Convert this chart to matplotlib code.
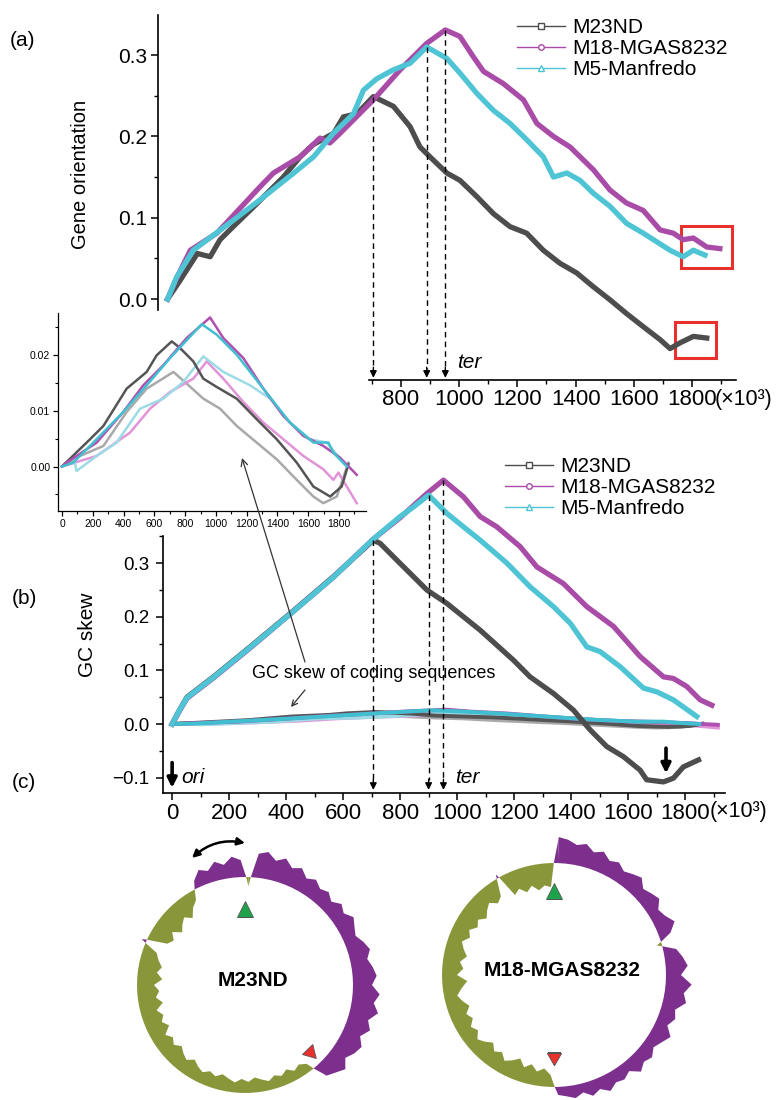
import numpy as np
import matplotlib.pyplot as plt
from matplotlib.lines import Line2D
from matplotlib.patches import Rectangle
from matplotlib.ticker import FuncFormatter

plt.rcParams['font.family'] = ['Liberation Sans', 'DejaVu Sans']

W, H = 777, 1100


def fp(x, y):
    # pixel position (top-left origin) -> figure fraction
    return x / W, 1 - y / H


def box(l, t, r, b):
    return [l / W, 1 - b / H, (r - l) / W, (b - t) / H]


names = ['M23ND', 'M18-MGAS8232', 'M5-Manfredo']
colors = ['#4d4d4d', '#a94ca8', '#4ec4d4']
markers = ['s', 'o', '^']

# ---- (a) cumulative gene orientation, position in kb ----
a_x_m23 = [0, 43, 102, 146, 180, 225, 294, 397, 455, 500, 570, 603, 650, 706, 775, 832, 866, 900,
           958, 1003, 1061, 1118, 1175, 1232, 1289, 1346, 1404, 1461, 1518, 1575, 1632, 1690, 1724,
           1758, 1804, 1850]
a_y_m23 = [0, 0.023, 0.056, 0.052, 0.073, 0.089, 0.113, 0.150, 0.175, 0.190, 0.204, 0.224, 0.228,
           0.249, 0.237, 0.212, 0.187, 0.175, 0.155, 0.146, 0.126, 0.105, 0.089, 0.081, 0.060, 0.044,
           0.032, 0.015, -0.001, -0.018, -0.034, -0.050, -0.061, -0.054, -0.046, -0.048]
a_x_m18 = [0, 30, 78, 169, 317, 363, 455, 523, 557, 592, 706, 798, 889, 953, 1003, 1049, 1084, 1152,
           1221, 1267, 1324, 1381, 1461, 1518, 1575, 1632, 1690, 1735, 1769, 1804, 1850, 1895]
a_y_m18 = [0, 0.025, 0.060, 0.081, 0.138, 0.155, 0.175, 0.198, 0.192, 0.204, 0.245, 0.282, 0.3145,
           0.331, 0.323, 0.298, 0.280, 0.265, 0.245, 0.216, 0.200, 0.187, 0.159, 0.134, 0.118, 0.109,
           0.085, 0.081, 0.073, 0.075, 0.064, 0.062]
a_x_m5 = [0, 31, 88, 226, 317, 433, 501, 569, 638, 672, 718, 775, 832, 889, 958, 1003, 1061, 1118,
          1175, 1232, 1289, 1324, 1370, 1415, 1461, 1518, 1575, 1632, 1667, 1724, 1769, 1804, 1844]
a_y_m5 = [0, 0.027, 0.060, 0.097, 0.122, 0.155, 0.175, 0.204, 0.228, 0.257, 0.271, 0.282, 0.290,
          0.310, 0.296, 0.278, 0.253, 0.232, 0.216, 0.196, 0.175, 0.150, 0.155, 0.146, 0.130, 0.114,
          0.093, 0.081, 0.073, 0.060, 0.052, 0.060, 0.054]

# ---- (b) cumulative GC skew, whole genome ----
b_x_m23 = [0, 25, 52, 145, 274, 414, 566, 706, 730, 788, 894, 964, 1081, 1198, 1256, 1338, 1408,
           1467, 1525, 1584, 1642, 1665, 1724, 1759, 1794, 1847]
b_y_m23 = [0, 0.025, 0.050, 0.088, 0.144, 0.206, 0.275, 0.343, 0.337, 0.306, 0.250, 0.225, 0.175,
           0.119, 0.088, 0.057, 0.026, -0.011, -0.042, -0.061, -0.086, -0.104, -0.108, -0.101,
           -0.080, -0.067]
b_x_m18 = [0, 25, 52, 145, 274, 414, 566, 706, 800, 894, 952, 1022, 1081, 1139, 1221, 1280, 1373,
           1455, 1549, 1642, 1724, 1759, 1806, 1853, 1894]
b_y_m18 = [0, 0.024, 0.048, 0.086, 0.142, 0.205, 0.274, 0.345, 0.385, 0.430, 0.455, 0.424, 0.387,
           0.368, 0.331, 0.293, 0.262, 0.219, 0.182, 0.126, 0.088, 0.085, 0.070, 0.045, 0.035]
b_x_m5 = [0, 25, 52, 145, 274, 414, 566, 706, 800, 847, 900, 964, 1022, 1081, 1175, 1256, 1338,
          1397, 1455, 1502, 1572, 1654, 1701, 1759, 1841]
b_y_m5 = [0, 0.025, 0.049, 0.087, 0.143, 0.205, 0.274, 0.345, 0.387, 0.405, 0.427, 0.393, 0.368,
          0.343, 0.300, 0.256, 0.219, 0.188, 0.144, 0.135, 0.107, 0.067, 0.060, 0.045, 0.014]

# ---- GC skew of coding sequences (inset, also drawn in b) ----
c_x_m23 = [0, 182, 269, 420, 550, 615, 713, 767, 853, 918, 1005, 1135, 1265, 1395, 1525, 1633,
           1742, 1817, 1861]
c_y_m23 = [0, 0.0049, 0.0073, 0.0140, 0.0170, 0.0200, 0.0225, 0.0213, 0.0189, 0.0158, 0.0143,
           0.0122, 0.0085, 0.0049, 0.0007, -0.0036, -0.0054, -0.0036, 0.0004]
c_x_m23b = [0, 117, 269, 420, 550, 724, 810, 918, 1027, 1135, 1265, 1395, 1525, 1633, 1698, 1785, 1861]
c_y_m23b = [0, 0.0019, 0.0037, 0.0098, 0.0140, 0.0170, 0.0149, 0.0122, 0.0104, 0.0073, 0.0043,
            0.0013, -0.0024, -0.0054, -0.0066, -0.0054, 0.0007]
c_x_m18 = [0, 30, 225, 398, 528, 658, 810, 962, 1048, 1178, 1308, 1438, 1568, 1698, 1806, 1915]
c_y_m18 = [0, 0.0007, 0.0043, 0.0098, 0.0146, 0.0182, 0.0231, 0.0268, 0.0231, 0.0195, 0.0140,
           0.0091, 0.0055, 0.0037, 0.0016, -0.0015]
c_x_m18b = [0, 225, 442, 572, 702, 853, 940, 1048, 1178, 1308, 1438, 1568, 1698, 1763, 1796, 1850, 1915]
c_y_m18b = [0, 0.0019, 0.0061, 0.0104, 0.0134, 0.0158, 0.0189, 0.0158, 0.0116, 0.0079, 0.0049,
            0.0019, -0.0005, -0.0024, -0.0011, -0.0036, -0.0066]
c_x_m5 = [0, 73, 225, 398, 550, 702, 908, 1005, 1135, 1308, 1481, 1633, 1731, 1763, 1850]
c_y_m5 = [0, 0.0007, 0.0049, 0.0098, 0.0146, 0.0195, 0.0256, 0.0237, 0.0201, 0.0140, 0.0079,
          0.0043, 0.0043, 0.0025, 0.0000]
c_x_m5b = [0, 73, 95, 225, 355, 507, 658, 788, 918, 1048, 1222, 1352, 1481, 1611, 1720, 1828]
c_y_m5b = [0, 0.0019, -0.0008, 0.0019, 0.0043, 0.0104, 0.0122, 0.0152, 0.0198, 0.0170, 0.0146,
           0.0122, 0.0079, 0.0049, 0.0043, 0.0007]

# ---- (c) windowed GC skew around the chromosome, 4 degree windows from ori, clockwise ----
ring_angles = np.arange(0, 360, 4) + 2
skew_m23 = [-9, 24, 27, 20, 25, 18, 22, 15, 19, 14, 17, 12, 18, 14, 20, 16, 13, 18, 22, 17,
            21, 24, 19, 27, 22, 28, 20, 25, 18, 24, 21, 16, 23, 18, 14, -8, -12, -9, -14, -10,
            -13, -9, -12, -15, -11, -14, -10, -13, -16, -12, -15, -11, -14, -18, -13, -16, -20, -15, -19, -14,
            -22, -17, -21, -16, -24, -18, -22, -17, -25, -19, -23, -18, -14, 5, -20, -24, -18, -26, -21, -17,
            -23, -15, -10, 8, 16, 12, 19, 14, 21, 17]
skew_m18 = [26, 24, 20, 23, 17, 21, 15, 18, 13, 16, 19, 12, 15, 18, 11, 14, 20, 12, -5, 13,
            18, 22, 15, 26, 19, 23, 14, 17, 12, 20, 15, 11, 16, 13, 18, 10, 14, 12, 17, 11,
            15, 9, 13, 10, 8, -12, -18, -14, -20, -15, -22, -17, -13, -19, -15, -21, -16, -12, -18, -14,
            -20, -16, -22, -17, -13, -19, -25, -15, -21, -17, -23, -18, -14, -20, -16, -22, -18, -24, -19, -15,
            -21, -17, 4, -23, -19, -25, -20, -26, -22, -24]

fig = plt.figure(figsize=(W / 100, H / 100), dpi=100)


def style(ax, fs, pad):
    ax.set_facecolor('none')
    for s in ['top', 'right']:
        ax.spines[s].set_visible(False)
    for s in ['left', 'bottom']:
        ax.spines[s].set_linewidth(1.2)
    ax.tick_params(which='major', direction='out', length=5, width=1.1, labelsize=fs, pad=pad)
    ax.tick_params(which='minor', direction='out', length=3, width=1.0)


fmt1 = FuncFormatter(lambda v, _: f'{v:.1f}'.replace('-', '\u2212'))

# ================= (a) =================
ax_a = fig.add_axes(box(158, 14.5, 735.9, 380.3))
style(ax_a, 15, 3)
ax_a.tick_params(axis='x', labelsize=16, pad=1.5)
ax_a.set_xlim(-33, 1950)
ax_a.set_ylim(-0.1, 0.35)
a_series = [(a_x_m23, a_y_m23), (a_x_m18, a_y_m18), (a_x_m5, a_y_m5)]
for (xs, ys), c in zip(a_series, colors):
    ax_a.plot(xs, ys, color=c, lw=3.8, solid_joinstyle='round')
ax_a.spines['left'].set_bounds(-0.013, 0.35)
ax_a.spines['bottom'].set_bounds(690, 1950)
ax_a.set_yticks([0, 0.1, 0.2, 0.3])
ax_a.set_yticks([0.05, 0.15, 0.25], minor=True)
ax_a.yaxis.set_major_formatter(fmt1)
ax_a.set_xticks(range(800, 1801, 200))
ax_a.set_xticks(range(700, 1901, 200), minor=True)
ax_a.set_ylabel('Gene orientation', fontsize=14.5)
ax_a.yaxis.set_label_coords(-0.118, 0.564)
for xs, ys in a_series:
    i = int(np.argmax(ys))
    ax_a.plot([xs[i], xs[i]], [ys[i], -0.086], ls=(0, (4, 3)), color='k', lw=1.0)
    ax_a.annotate('', xy=(xs[i], -0.097), xytext=(xs[i], -0.084),
                  arrowprops=dict(arrowstyle='-|>', color='k', lw=1.0, mutation_scale=10,
                                  shrinkA=0, shrinkB=0))
ax_a.add_patch(Rectangle((1763, 0.0378), 173, 0.052, fill=False, ec='#e8302c', lw=2.2, clip_on=False))
ax_a.add_patch(Rectangle((1741, -0.073), 140, 0.045, fill=False, ec='#e8302c', lw=2.2, clip_on=False))
ax_a.text(993, -0.0775, 'ter', style='italic', fontsize=15, va='center', ha='left')
handles = [Line2D([], [], color=c, lw=1.0, marker=m, ms=4, mfc='white', mec=c)
           for c, m in zip(colors, markers)]
ax_a.legend(handles, names, loc='upper left', bbox_to_anchor=fp(517, 18),
            bbox_transform=fig.transFigure, frameon=False, fontsize=15, handlelength=2.3,
            handletextpad=0.35, labelspacing=0.1, borderpad=0, borderaxespad=0)
fig.text(*fp(715, 399), '(\u00d710\u00b3)', fontsize=15.5, ha='left', va='center')

# ================= inset =================
coding = [(c_x_m23b, c_y_m23b, '#a9a9a9'), (c_x_m18b, c_y_m18b, '#e294d9'),
          (c_x_m5b, c_y_m5b, '#9cdbe6'), (c_x_m23, c_y_m23, '#555555'),
          (c_x_m18, c_y_m18, '#b04fb0'), (c_x_m5, c_y_m5, '#40bfd0')]
ax_in = fig.add_axes(box(58, 313, 366, 511))
style(ax_in, 7.5, 2)
ax_in.tick_params(which='major', length=3.5, width=0.9)
ax_in.tick_params(which='minor', length=2, width=0.8)
for s in ['left', 'bottom']:
    ax_in.spines[s].set_linewidth(0.9)
for xs, ys, c in coding:
    ax_in.plot(xs, ys, color=c, lw=1.8)
ax_in.set_xlim(-26, 1975)
ax_in.set_ylim(-0.008, 0.0276)
ax_in.set_xticks(range(0, 1801, 200))
ax_in.set_xticks(range(100, 1901, 200), minor=True)
ax_in.set_yticks([0, 0.01, 0.02])
ax_in.set_yticks([-0.005, 0.005, 0.015, 0.025], minor=True)
ax_in.yaxis.set_major_formatter(FuncFormatter(lambda v, _: f'{v:.2f}'))

# ================= (b) =================
ax_b = fig.add_axes(box(163, 429.2, 725, 793))
style(ax_b, 16, 2.5)
ax_b.tick_params(axis='y', labelsize=13.5, pad=5)
ax_b.set_xlim(-32, 1940)
ax_b.set_ylim(-0.1287, 0.55)
for xs, ys, c in coding:
    ax_b.plot(xs, ys, color=c, lw=2.8)
b_series = [(b_x_m23, b_y_m23), (b_x_m18, b_y_m18), (b_x_m5, b_y_m5)]
for (xs, ys), c in zip(b_series, colors):
    ax_b.plot(xs, ys, color=c, lw=3.8, solid_joinstyle='round')
ax_b.spines['left'].set_bounds(-0.1287, 0.351)
ax_b.set_yticks([-0.1, 0, 0.1, 0.2, 0.3])
ax_b.set_yticks([-0.05, 0.05, 0.15, 0.25, 0.35], minor=True)
ax_b.yaxis.set_major_formatter(fmt1)
ax_b.set_xticks(range(0, 1801, 200))
ax_b.set_xticks(range(100, 1901, 200), minor=True)
ax_b.set_ylabel('GC skew', fontsize=15)
ax_b.yaxis.set_label_coords(-0.117, 0.434)
for xs, ys in b_series:
    i = int(np.argmax(ys))
    ax_b.plot([xs[i], xs[i]], [ys[i], -0.105], ls=(0, (4, 3)), color='k', lw=1.0)
    ax_b.annotate('', xy=(xs[i], -0.123), xytext=(xs[i], -0.103),
                  arrowprops=dict(arrowstyle='-|>', color='k', lw=1.0, mutation_scale=10,
                                  shrinkA=0, shrinkB=0))
for xv, y0, y1 in [(0, -0.072, -0.119), (1733, -0.045, -0.092)]:
    ax_b.annotate('', xy=(xv, y1), xytext=(xv, y0),
                  arrowprops=dict(arrowstyle='-|>', color='k', lw=2.6, mutation_scale=14,
                                  shrinkA=0, shrinkB=0))
ax_b.text(32, -0.1, 'ori', style='italic', fontsize=15, va='center', ha='left')
ax_b.text(993, -0.1, 'ter', style='italic', fontsize=15, va='center', ha='left')
ax_b.legend(handles, names, loc='upper left', bbox_to_anchor=fp(505, 457),
            bbox_transform=fig.transFigure, frameon=False, fontsize=15, handlelength=2.3,
            handletextpad=0.35, labelspacing=0.1, borderpad=0, borderaxespad=0)
fig.text(*fp(710, 811), '(\u00d710\u00b3)', fontsize=15.5, ha='left', va='center')

fig.text(*fp(252, 674), 'GC skew of coding sequences', fontsize=13, ha='left', va='center')
ax_b.annotate('', xy=fp(242, 458), xytext=fp(305, 662), xycoords='figure fraction',
              textcoords='figure fraction',
              arrowprops=dict(arrowstyle='->', color='#333333', lw=0.9, mutation_scale=12,
                              shrinkA=0, shrinkB=0))
ax_b.annotate('', xy=fp(291, 707), xytext=fp(305, 690), xycoords='figure fraction',
              textcoords='figure fraction',
              arrowprops=dict(arrowstyle='->', color='#333333', lw=0.9, mutation_scale=10,
                              shrinkA=0, shrinkB=0))

# ================= (c) =================
PURPLE = '#7d2f8e'
OLIVE = '#8a963a'


def ring(cx, cy, base, skew, label, ori_r, ter_r, ter_deg):
    ax = fig.add_axes(box(cx - 140, cy - 140, cx + 140, cy + 140), projection='polar')
    ax.set_theta_zero_location('N')
    ax.set_theta_direction(-1)
    th = np.deg2rad(np.r_[ring_angles, ring_angles[0] + 360])
    v = np.r_[skew, skew[0]]
    ax.fill_between(th, base, base + v, where=v >= 0, interpolate=True, color=PURPLE, lw=0)
    ax.fill_between(th, base, base + v, where=v <= 0, interpolate=True, color=OLIVE, lw=0)
    ax.plot(0, ori_r, marker='^', ms=12, color='#1fa34a', mec='#555555', mew=0.6)
    ax.plot(np.deg2rad(ter_deg), ter_r, marker=(3, 0, -ter_deg), ms=12, color='#e8302c',
            mec='#555555', mew=0.6)
    ax.set_ylim(0, 140)
    ax.axis('off')
    fig.text(*fp(cx + 8, cy - 5), label, fontsize=15, fontweight='bold', ha='center', va='center')
    return ax


ring(245, 985, 108, skew_m23, 'M23ND', 76, 93, 136)
ring(554, 975, 112, skew_m18, 'M18-MGAS8232', 84, 82, 180)

ax_b.annotate('', xy=fp(245, 843), xytext=fp(192, 858), xycoords='figure fraction',
              textcoords='figure fraction',
              arrowprops=dict(arrowstyle='<|-|>', color='k', lw=1.8, mutation_scale=11,
                              shrinkA=0, shrinkB=0, connectionstyle='arc3,rad=-0.25'))

fig.text(*fp(10, 40), '(a)', fontsize=15, va='center', ha='left')
fig.text(*fp(12, 598), '(b)', fontsize=15, va='center', ha='left')
fig.text(*fp(12, 782), '(c)', fontsize=15, va='center', ha='left')

fig.savefig('out.png', dpi=100)
